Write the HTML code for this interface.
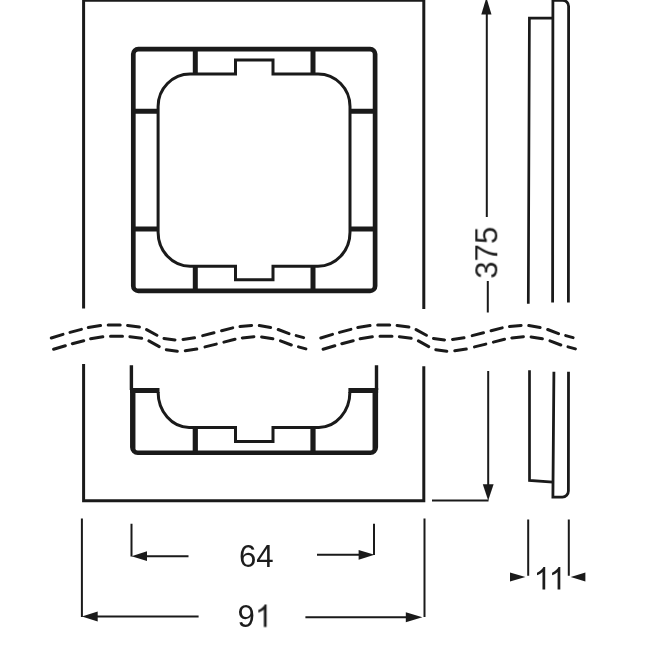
<!DOCTYPE html>
<html>
<head>
<meta charset="utf-8">
<style>
html,body{margin:0;padding:0;background:#fff;}
body{width:650px;height:650px;overflow:hidden;}
svg{display:block;}
text{font-family:"Liberation Sans",sans-serif;fill:#1c1c1c;}
</style>
</head>
<body>
<svg width="650" height="650" viewBox="0 0 650 650">
<rect x="0" y="0" width="650" height="650" fill="#fff"/>
<g fill="none" stroke="#1a1a1a" stroke-linecap="butt" stroke-linejoin="miter">

<!-- outer plate, upper part -->
<path d="M83.6,308.5 V0.3 H423.8 V309" stroke-width="3"/>
<!-- outer plate, lower part -->
<path d="M83.6,364 V500.7 H423.8 V366.2" stroke-width="3"/>

<!-- upper inner frame -->
<rect x="133.3" y="49.1" width="241.8" height="241.8" rx="5" ry="5" stroke-width="4.7"/>
<!-- ticks -->
<g stroke-width="5">
<path d="M195.3,49 V74 M313,49 V74 M195.3,266.3 V290.9 M313,266.3 V290.9"/>
<path d="M133.3,111.3 H157.9 M350,111.3 H375.1 M133.3,228.9 H157.9 M350,228.9 H375.1"/>
</g>
<!-- inner opening -->
<path d="M190.1,74 H235.5 V60 H273 V74 H318 A32,32.5 0 0 1 350,106.5 V232.3 A32,34 0 0 1 318,266.3 H273 V279.7 H235.5 V266.3 H190.1 A32,34 0 0 1 158.1,232.3 V106.5 A32,32.5 0 0 1 190.1,74 Z" stroke-width="3"/>

<!-- lower frame -->
<path d="M131.4,365.2 V390 M376.5,365.2 V390" stroke-width="3.4"/>
<path d="M132.25,388 V447.2 A5.5,5.5 0 0 0 137.75,452.7 H370.4 A5.5,5.5 0 0 0 375.9,447.2 V388" stroke-width="4.4"/>
<path d="M134.5,388 V450 M373.5,388 V450" stroke-width="1.9"/>
<path d="M130.05,390.4 H159.5 M348.4,390.4 H378.1" stroke-width="5"/>
<path d="M195.3,427.4 V452.7 M313,427.4 V452.7" stroke-width="5.2"/>
<path d="M158.1,392 A31,35.4 0 0 0 189.1,427.4 H235.5 V441.6 H273 V427.4 H318.9 A31,35.4 0 0 0 349.9,392" stroke-width="3"/>

<!-- side view upper -->
<path d="M528.3,303.7 L529.4,18.1 H553" stroke-width="2.7"/>
<path d="M552.6,302.6 L552.9,0.3 H562.6 A6,6 0 0 1 568.6,6.3 L568.4,302.6" stroke-width="2.8"/>
<!-- side view lower -->
<path d="M529.5,370.2 V480.4 L553,482.2" stroke-width="2.7"/>
<path d="M553.9,371.8 L552.9,497.1 H562.4 A6,6 0 0 0 568.4,491.1 L568.5,371.8" stroke-width="2.8"/>

<!-- dimension lines -->
<g stroke-width="2">
<path d="M486.8,12 V217 M487.8,281 V312.4 M488.2,371 V488"/>
<path d="M432,500.6 H488.5"/>
<path d="M81.9,518.6 V617 M131.5,523.8 V556.5 M374,523.8 V555 M424.5,518.6 V617"/>
<path d="M145,556.2 H188.5 M317,554.8 H360"/>
<path d="M96,616.5 H198.6 M305.4,617.2 H407"/>
<path d="M528.2,519.4 V575.7 M568.8,519.4 V575.7"/>
</g>
</g>

<!-- arrow heads -->
<g fill="#1a1a1a" stroke="none">
<path d="M486.4,-2.5 L491.5,14.6 L481.3,14.6 Z"/>
<path d="M488.2,500.4 L482.8,484.3 L493.6,484.3 Z"/>
<path d="M131.5,556.2 L147,551.3 L147,561.1 Z"/>
<path d="M374.5,554.8 L358.6,549.9 L358.6,559.7 Z"/>
<path d="M81.9,616.4 L97.7,611.4 L97.7,621.4 Z"/>
<path d="M422.4,617.2 L405.8,612.2 L405.8,622.2 Z"/>
<path d="M525.4,577 L510,572.4 L510,581.6 Z"/>
<path d="M570.7,577 L585.4,572.4 L585.4,581.6 Z"/>
</g>

<!-- break lines -->
<defs>
<g id="wave" fill="none" stroke="#1a1a1a" stroke-width="3" stroke-linecap="round">
<path d="M51.3,338 L63,334.4 M70,332.4 L81.4,329.4 M88.3,327.5 L100.5,325.5 M108.2,325 L120.2,325 M127.6,325.4 L139.4,327 M146.6,329.6 L156.9,335.3 M164,338.4 L175,339.9 M183,339.4 L194.5,337.8 M202.7,335.6 L214,332.8 M221.6,330.8 L232.7,327.9 M240,326.6 L251.6,325.4 M259.3,325.6 L270.6,327.5 M278.2,329.5 L289,333.7 M296.2,335.6 L303.6,337.6"/>
</g>
</defs>
<use href="#wave"/>
<use href="#wave" transform="translate(2.3,11.3)"/>
<use href="#wave" transform="translate(269.5,0)"/>
<use href="#wave" transform="translate(271.8,11.3)"/>

<!-- labels -->
<g opacity="0.999">
<text x="239" y="567.3" font-size="31.2">64</text>
<text x="237.6" y="626.9" font-size="31.2">9</text>
<text transform="translate(497.3,278.7) rotate(-90)" font-size="31.2">375</text>
</g>
<defs>
<path id="one" d="M763,0 H583 V-1147 Q518,-1085 412.5,-1023 Q307,-961 223,-930 V-1104 Q374,-1175 487,-1276 Q600,-1377 647,-1472 H763 Z"/>
</defs>
<g fill="#1c1c1c">
<use href="#one" transform="translate(254.95,626.9) scale(0.015234)"/>
<use href="#one" transform="translate(533.6,589.5) scale(0.015234)"/>
<use href="#one" transform="translate(548.7,589.5) scale(0.015234)"/>
</g>
</svg>
</body>
</html>
